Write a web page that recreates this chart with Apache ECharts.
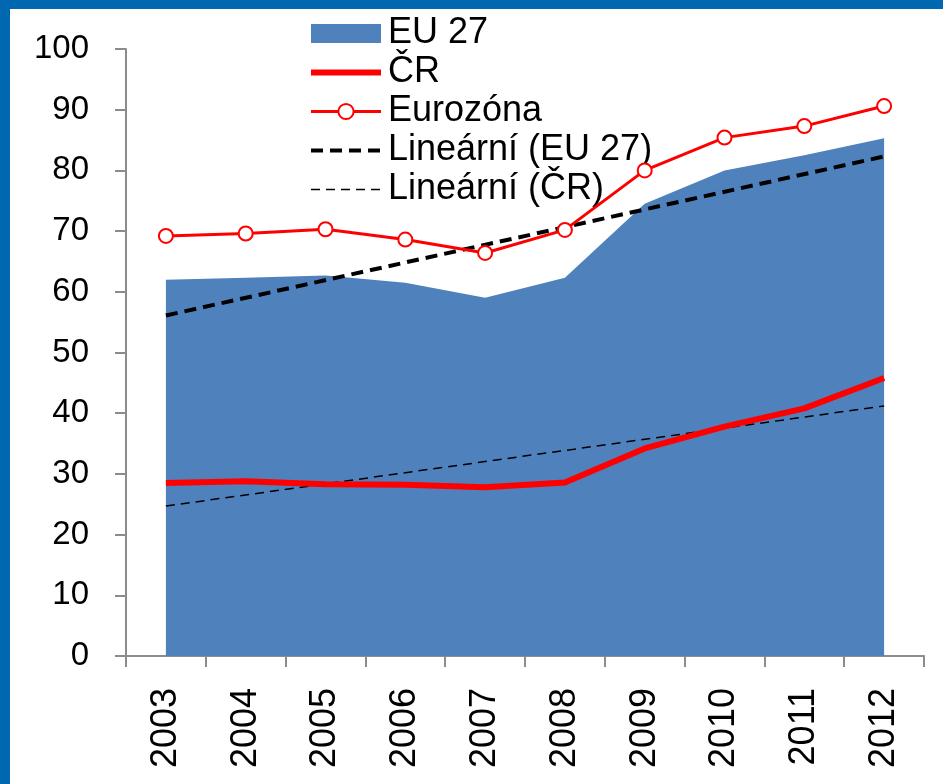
<!DOCTYPE html>
<html>
<head>
<meta charset="utf-8">
<script src="https://cdn.jsdelivr.net/npm/echarts@6/dist/echarts.min.js"></script>
<style>
  html, body { margin: 0; padding: 0; background: #fff; overflow: hidden; }
  #chart { position: absolute; left: 0; top: 0; width: 943px; height: 784px; }
  .edge { position: absolute; background: #0068B0; pointer-events: none; }
</style>
</head>
<body>
<div id="chart"></div>
<div class="edge" style="left:0;top:0;width:943px;height:9px"></div>
<div class="edge" style="left:0;top:0;width:10px;height:784px"></div>
<script>
// roky
const years = ['2003', '2004', '2005', '2006', '2007', '2008', '2009', '2010', '2011', '2012'];

// hodnoty
const eu27 = [62, 62.3, 62.7, 61.5, 59, 62.3, 74.5, 80, 82.5, 85.3];
const cr = [28.5, 28.8, 28.3, 28.2, 27.8, 28.6, 34.2, 37.8, 40.8, 45.8];
const eurozona = [69.2, 69.6, 70.3, 68.6, 66.4, 70.2, 80, 85.4, 87.3, 90.6];

// lineární trendy - koncové body
const trendEu27 = [['2003', 56.1], ['2012', 82.3]];
const trendCr = [['2003', 24.7], ['2012', 41.2]];

const yTicks = { min: 0, max: 100, interval: 10 };

const FONT = '"Liberation Sans", Arial, sans-serif';
const RED = '#FF0000';
const BLUE = '#4F81BD';
const AXIS = '#8C8C8C';

// bez bodů v legendě u čar
const noDot = { opacity: 0 };

const chart = echarts.init(document.getElementById('chart'));

chart.setOption({
  animation: false,
  backgroundColor: '#fff',
  textStyle: { fontFamily: FONT },
  grid: { left: 126, right: 19, top: 49, bottom: 128 },
  legend: {
    orient: 'vertical',
    left: 308,
    top: 14,
    padding: 0,
    itemWidth: 70,
    itemHeight: 19,
    itemGap: 0,
    textStyle: { fontSize: 36, color: '#000', fontFamily: FONT, lineHeight: 39, padding: [0, 0, 0, 2] },
    data: [
      { name: 'EU 27', icon: 'rect' },
      { name: 'ČR', itemStyle: noDot, lineStyle: { width: 6 } },
      { name: 'Eurozóna', lineStyle: { width: 3 } },
      { name: 'Lineární (EU 27)', itemStyle: noDot, lineStyle: { width: 4 } },
      { name: 'Lineární (ČR)', itemStyle: noDot, lineStyle: { width: 1.5 } },
    ],
  },
  xAxis: {
    type: 'category',
    data: years,
    boundaryGap: true,
    axisLine: { lineStyle: { color: AXIS, width: 2 } },
    axisTick: { show: true, length: 11, lineStyle: { color: AXIS, width: 2 } },
    axisLabel: { rotate: 90, fontSize: 36, color: '#000', margin: 32, fontFamily: FONT },
  },
  yAxis: {
    type: 'value',
    min: yTicks.min,
    max: yTicks.max,
    interval: yTicks.interval,
    splitLine: { show: false },
    axisLine: { show: true, lineStyle: { color: AXIS, width: 2 } },
    axisTick: { show: true, length: 11, lineStyle: { color: AXIS, width: 2 } },
    axisLabel: { fontSize: 33, color: '#000', margin: 37, fontFamily: FONT },
  },
  series: [
    {
      name: 'EU 27',
      type: 'line',
      data: eu27,
      symbol: 'none',
      itemStyle: { color: BLUE },
      lineStyle: { width: 0, color: BLUE },
      areaStyle: { color: BLUE, opacity: 1 },
      z: 1,
    },
    {
      name: 'ČR',
      type: 'line',
      data: cr,
      symbol: 'none',
      itemStyle: { color: RED },
      lineStyle: { width: 6, color: RED },
      z: 4,
    },
    {
      name: 'Eurozóna',
      type: 'line',
      data: eurozona,
      symbol: 'circle',
      symbolSize: 14,
      itemStyle: { color: '#fff', borderColor: RED, borderWidth: 2 },
      lineStyle: { width: 3, color: RED },
      z: 5,
    },
    {
      name: 'Lineární (EU 27)',
      type: 'line',
      data: trendEu27,
      symbol: 'none',
      itemStyle: { color: '#000' },
      lineStyle: { width: 4, color: '#000', type: [12, 7] },
      z: 3,
    },
    {
      name: 'Lineární (ČR)',
      type: 'line',
      data: trendCr,
      symbol: 'none',
      itemStyle: { color: '#000' },
      lineStyle: { width: 1.5, color: '#000', type: [9, 6] },
      z: 3,
    },
  ],
});
</script>
</body>
</html>
